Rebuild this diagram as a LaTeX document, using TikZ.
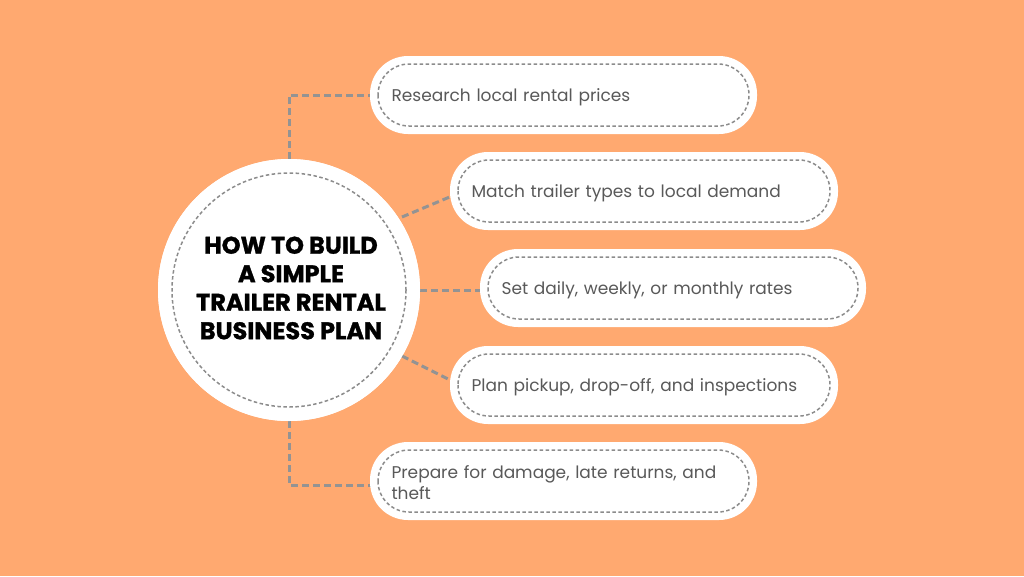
\documentclass[tikz,border=0pt]{standalone}
\usepackage{fontspec}
\setmainfont{Poppins}
\newfontfamily\titlefont[FakeBold=1.2]{Poppins Bold}
\definecolor{bg}{RGB}{255,169,112}
\begin{document}
\begin{tikzpicture}[x=1pt,y=-1pt,
  conn/.style={draw=gray!85,line width=3pt,dash pattern=on 7pt off 4pt},
  inner/.style={draw=gray!90,line width=1.5pt,dash pattern=on 3.5pt off 2.5pt},
  lbl/.style={text=black!65,font=\fontsize{17}{21}\selectfont,align=left,anchor=west,text width=340pt}]
\useasboundingbox (0,0) rectangle (1024,576);
\fill[bg] (0,0) rectangle (1024,576);
\coordinate (c) at (289,290);
\coordinate (t1) at (289,95);
\coordinate (t5) at (289,485);
\node[circle,fill=white,minimum size=262pt,inner sep=0] (C) at (c) {};
\draw[conn] (C.north) -- (t1) -- (372,95);
\draw[conn] (C.south) -- (t5) -- (372,485);
\draw[conn] (402,217) -- (452,196);
\draw[conn] (C.east) -- (482,290);
\draw[conn] (402,356) -- (452,381);
\node[circle,fill=white,minimum size=262pt,inner sep=0] at (c) {};
\draw[inner] (c) circle (117);
\node[font=\titlefont\fontsize{24}{28.5}\selectfont,align=center] (T) at (291,288) {HOW TO BUILD\\A SIMPLE\\TRAILER RENTAL\\BUSINESS PLAN};
\foreach \x/\y/\w/\t [count=\i] in {
 370/95/387/{Research local rental prices},
 450/191/388/{Match trailer types to local demand},
 480/288/386/{Set daily, weekly, or monthly rates},
 450/385/388/{Plan pickup, drop-off, and inspections},
 370/481/387/{Prepare for damage, late returns, and\\theft}} {
  \fill[white,rounded corners=38pt] (\x,\y-39) rectangle ++(\w,78);
  \draw[inner,rounded corners=31pt] (\x+8,\y-31) rectangle ++(\w-16,62);
  \node[lbl] (b\i) at (\x+18,\y+2) {\t};
}
\end{tikzpicture}
\end{document}
